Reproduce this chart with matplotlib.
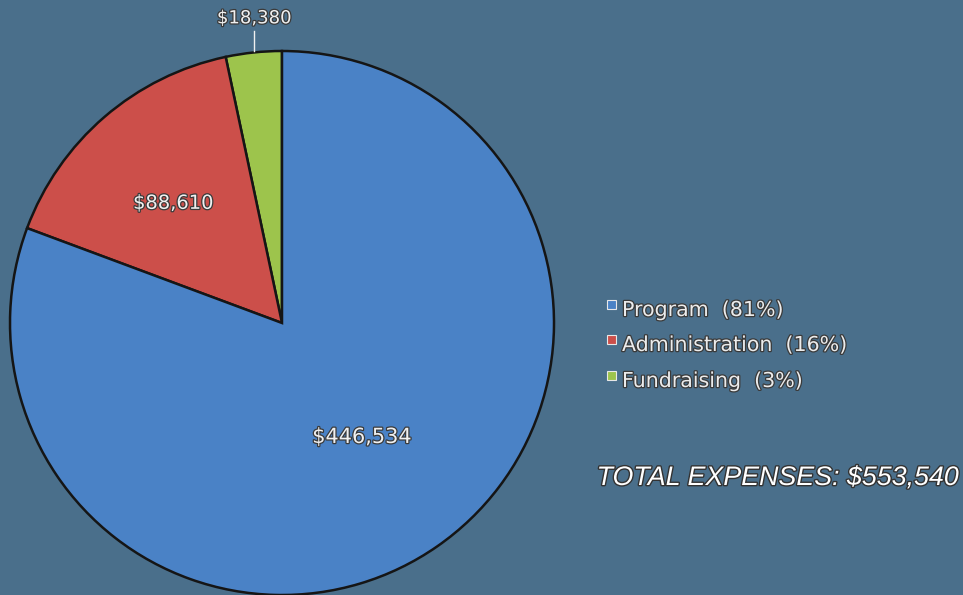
import matplotlib
matplotlib.use("Agg")
import matplotlib.pyplot as plt
import matplotlib.patheffects as pe
from matplotlib.patches import Rectangle

categories = ["Fundraising", "Administration", "Program"]
values = [18380, 88610, 446534]
colors = ["#9dc44c", "#cc4f4a", "#4a82c6"]
total_label = "TOTAL EXPENSES: $553,540"
legend_order = ["Program", "Administration", "Fundraising"]

bg = "#4a6f8b"
fig = plt.figure(figsize=(9.63, 5.95), dpi=100, facecolor=bg)
ax = fig.add_axes([10 / 963, -0.0 / 595, 544 / 963, 544 / 595])
ax.set_facecolor(bg)
wedges, _ = ax.pie(values, colors=colors, startangle=90, counterclock=True,
                   radius=1.0, center=(0, 0),
                   wedgeprops=dict(edgecolor="#151515", linewidth=1.8))
ax.set_xlim(-1, 1)
ax.set_ylim(-1, 1)
ax.set_aspect("equal")
ax.axis("off")

shadow = [pe.withStroke(linewidth=1.8, foreground="#3a3a3a")]
label_pos = {"Program": (0.294, -0.419), "Administration": (-0.40, 0.44),
             "Fundraising": (-0.103, 1.12)}
label_size = {"Program": 15, "Administration": 14, "Fundraising": 13}
for cat, v in zip(categories, values):
    x, y = label_pos[cat]
    ax.text(x, y, f"${v:,}", color="#f0f0f0", fontsize=label_size[cat], ha="center",
            va="center", path_effects=shadow, clip_on=False,
            family="DejaVu Sans")
# leader line for the small slice
ax.plot([-0.103, -0.103], [1.075, 1.0], color="#f0f0f0", lw=1, clip_on=False)

total = sum(values)
rows_y = [310, 345, 381]
for name, ry in zip(legend_order, rows_y):
    i = categories.index(name)
    pct = round(values[i] / total * 100)
    fig.patches.append(Rectangle((607 / 963, 1 - (ry - 1) / 595), 9 / 963, 9 / 595,
                                 transform=fig.transFigure, facecolor=colors[i],
                                 edgecolor="#e8e8e8", linewidth=0.8))
    fig.text(622 / 963, 1 - ry / 595, f"{name}  ({pct}%)", color="#ececec",
             fontsize=14.8, ha="left", va="center", path_effects=shadow,
             family="DejaVu Sans")

fig.text(958 / 963, 1 - 478 / 595, total_label, color="white", fontsize=19.3,
         style="italic", ha="right", va="center", family="Liberation Sans",
         path_effects=[pe.withStroke(linewidth=2, foreground="#333333")])

fig.savefig("out.png", dpi=100, facecolor=bg)
